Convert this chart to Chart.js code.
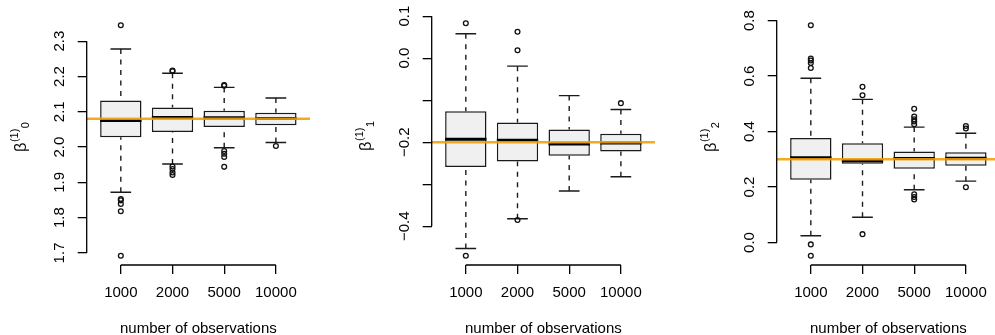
<!DOCTYPE html>
<html>
<head>
<meta charset="utf-8">
<script src="https://cdn.jsdelivr.net/npm/chart.js@4/dist/chart.umd.min.js"></script>
<style>
  html, body { margin: 0; padding: 0; background: #fff; overflow: hidden; }
  #wrap { position: relative; width: 995px; height: 335px; overflow: hidden; }
  .panel { position: absolute; top: 0; width: 345px; height: 335px; }
</style>
</head>
<body>
<div id="wrap">
  <div class="panel" style="left:0px"><canvas id="c0" width="345" height="335"></canvas></div>
  <div class="panel" style="left:345px"><canvas id="c1" width="345" height="335"></canvas></div>
  <div class="panel" style="left:690px"><canvas id="c2" width="345" height="335"></canvas></div>
</div>
<script>
'use strict';

// x categories
let nObs = ['1000', '2000', '5000', '10000'];

// each box: [lower whisker, q1, median, q3, upper whisker]
let b0Stats = [
  [1.872, 2.028, 2.075, 2.132, 2.278],
  [1.952, 2.043, 2.084, 2.112, 2.209],
  [1.998, 2.057, 2.083, 2.103, 2.169],
  [2.013, 2.062, 2.081, 2.097, 2.139]
];
let b0Out = [
  [2.345, 1.853, 1.849, 1.839, 1.818, 1.692],
  [2.217, 2.215, 1.945, 1.938, 1.928, 1.921],
  [2.176, 2.174, 1.989, 1.981, 1.972, 1.944],
  [2.003]
];
let b0True = 2.08;
let b0Ticks = [1.7, 1.8, 1.9, 2.0, 2.1, 2.2, 2.3];
let b0TickLabels = ['1.7', '1.8', '1.9', '2.0', '2.1', '2.2', '2.3'];

let b1Stats = [
  [-0.453, -0.259, -0.193, -0.126, 0.058],
  [-0.382, -0.246, -0.195, -0.153, -0.019],
  [-0.316, -0.232, -0.204, -0.170, -0.089],
  [-0.282, -0.222, -0.202, -0.180, -0.122]
];
let b1Out = [
  [0.083, -0.470],
  [0.063, 0.019, -0.385],
  [],
  [-0.107]
];
let b1True = -0.2;
let b1Ticks = [-0.4, -0.3, -0.2, -0.1, 0.0, 0.1];
let b1TickLabels = ['\u22120.4', '', '\u22120.2', '', '0.0', '0.1'];

let b2Stats = [
  [0.024, 0.226, 0.305, 0.377, 0.592],
  [0.091, 0.284, 0.295, 0.358, 0.516],
  [0.190, 0.266, 0.303, 0.328, 0.416],
  [0.221, 0.277, 0.304, 0.325, 0.394]
];
let b2Out = [
  [0.783, 0.663, 0.656, 0.647, 0.629, -0.007, -0.048],
  [0.561, 0.531, 0.030],
  [0.482, 0.454, 0.444, 0.436, 0.426, 0.174, 0.164, 0.155],
  [0.420, 0.411, 0.199]
];
let b2True = 0.3;
let b2Ticks = [0.0, 0.2, 0.4, 0.6, 0.8];
let b2TickLabels = ['0.0', '0.2', '0.4', '0.6', '0.8'];

const FONT = '"Liberation Sans", Arial, Helvetica, sans-serif';
Chart.defaults.font.family = FONT;
Chart.defaults.color = '#000';

function textWidth(txt, size) {
  let c = document.createElement('canvas').getContext('2d');
  c.font = size + 'px ' + FONT;
  return c.measureText(txt).width;
}

// axis line only from first to last tick, like R
const rAxes = {
  id: 'rAxes',
  afterDraw(chart) {
    let {ctx, scales: {x, y}} = chart;
    let xs = x.ticks.map(t => x.getPixelForValue(t.value));
    let ys = y.ticks.map(t => y.getPixelForValue(t.value));
    ctx.save();
    ctx.strokeStyle = '#000';
    ctx.lineWidth = 1.3;
    ctx.beginPath();
    ctx.moveTo(Math.min(...xs), x.top);
    ctx.lineTo(Math.max(...xs), x.top);
    ctx.moveTo(y.right, Math.min(...ys));
    ctx.lineTo(y.right, Math.max(...ys));
    ctx.stroke();
    ctx.restore();
  }
};

// y title: beta^(1)_k, rotated
const yTitle = {
  id: 'yTitle',
  afterDraw(chart, args, opts) {
    let {ctx, chartArea} = chart;
    ctx.save();
    ctx.fillStyle = '#000';
    ctx.translate(chartArea.left - 61, (chartArea.top + chartArea.bottom) / 2 - 3);
    ctx.rotate(-Math.PI / 2);
    ctx.textBaseline = 'alphabetic';
    let wB = textWidth('\u03b2', 16.5);
    let wS = textWidth('(1)', 11);
    let wI = textWidth(opts.sub, 11);
    let x = -(wB + wS + wI) / 2;
    ctx.font = '16.5px ' + FONT;
    ctx.fillText('\u03b2', x, 0);
    x += wB + 0.5;
    ctx.font = '11px ' + FONT;
    ctx.fillText('(1)', x, -7.5);
    x += wS + 0.5;
    ctx.fillText(opts.sub, x, 3);
    ctx.restore();
  }
};

function makePanel(id, stats, outl, truth, ticks, tickLabels, sub) {
  let n = stats.length;
  let xMin = 0.5 - 0.04 * n;
  let xMax = n + 0.5 + 0.04 * n;
  let all = [];
  stats.forEach((s, i) => { all.push(...s, ...outl[i]); });
  let lo = Math.min(...all), hi = Math.max(...all);
  let yMin = lo - 0.04 * (hi - lo);
  let yMax = hi + 0.04 * (hi - lo);

  let boxes = [], medians = [], whiskers = [], staples = [], points = [];
  stats.forEach((s, i) => {
    let c = i + 1;
    boxes.push({x: c, y: [s[1], s[3]]});
    medians.push({x: c - 0.4, y: s[2]}, {x: c + 0.4, y: s[2]}, {x: c, y: null});
    whiskers.push({x: c, y: s[4]}, {x: c, y: s[3]}, {x: c, y: null},
                  {x: c, y: s[0]}, {x: c, y: s[1]}, {x: c, y: null});
    staples.push({x: c - 0.2, y: s[4]}, {x: c + 0.2, y: s[4]}, {x: c, y: null},
                 {x: c - 0.2, y: s[0]}, {x: c + 0.2, y: s[0]}, {x: c, y: null});
    outl[i].forEach(v => points.push({x: c, y: v}));
  });

  let widest = Math.max(...tickLabels.map(t => textWidth(t, 15)));
  let yPad = 26.5 - 9 - widest / 2;

  let line = {type: 'line', pointRadius: 0, borderColor: '#1a1a1a', tension: 0, spanGaps: false};

  let ctx = document.getElementById(id).getContext('2d');
  return new Chart(ctx, { //eslint-disable-line
    type: 'bar',
    data: {
      datasets: [
        {
          data: boxes, order: 5,
          backgroundColor: '#f0f0f0', borderColor: '#1a1a1a', borderWidth: 1.5,
          borderSkipped: false, barPercentage: 0.8, categoryPercentage: 1.0
        },
        Object.assign({}, line, {data: medians, order: 4, borderWidth: 3, borderColor: '#000', borderCapStyle: 'butt'}),
        Object.assign({}, line, {data: whiskers, order: 3, borderWidth: 1.4, borderDash: [5, 5.5]}),
        Object.assign({}, line, {data: staples, order: 2, borderWidth: 1.4}),
        {
          type: 'scatter', data: points, order: 1,
          pointStyle: 'circle', pointRadius: 2.4, borderWidth: 1.3,
          borderColor: '#111', backgroundColor: 'rgba(0,0,0,0)'
        },
        {
          type: 'line', order: 0, pointRadius: 0,
          data: [{x: xMin, y: truth}, {x: xMax, y: truth}],
          borderColor: 'rgba(240,158,0,0.88)', borderWidth: 2.5
        }
      ]
    },
    options: {
      responsive: false,
      animation: false,
      events: [],
      layout: {padding: {top: 14, right: 35, bottom: 0, left: 0}},
      plugins: {
        legend: {display: false},
        tooltip: {enabled: false},
        yTitle: {sub: sub}
      },
      scales: {
        x: {
          type: 'linear', min: xMin, max: xMax, offset: false,
          afterBuildTicks: axis => { axis.ticks = nObs.map((_, i) => ({value: i + 1})); },
          afterFit: axis => { axis.height = 70; },
          grid: {display: true, offset: false, drawOnChartArea: false, drawTicks: true,
                 tickLength: 9, color: '#000', lineWidth: 1.3},
          border: {display: false},
          ticks: {
            autoSkip: false, maxRotation: 0, minRotation: 0, padding: 9.5,
            font: {size: 15, lineHeight: 1.2}, color: '#000',
            callback: (v, i) => nObs[i]
          },
          title: {display: true, text: 'number of observations',
                  font: {size: 15, lineHeight: 0.83}, padding: {top: 0, bottom: 0}, color: '#000'}
        },
        y: {
          type: 'linear', min: yMin, max: yMax,
          afterBuildTicks: axis => { axis.ticks = ticks.map(v => ({value: v})); },
          afterFit: axis => { axis.width = 86.7; },
          grid: {display: true, drawOnChartArea: false, drawTicks: true,
                 tickLength: 9, color: '#000', lineWidth: 1.3},
          border: {display: false},
          ticks: {
            autoSkip: false, minRotation: 90, maxRotation: 90, crossAlign: 'center',
            padding: yPad, font: {size: 15, lineHeight: 1.2}, color: '#000',
            callback: (v, i) => tickLabels[i]
          }
        }
      }
    },
    plugins: [rAxes, yTitle]
  });
}

makePanel('c0', b0Stats, b0Out, b0True, b0Ticks, b0TickLabels, '0');
makePanel('c1', b1Stats, b1Out, b1True, b1Ticks, b1TickLabels, '1');
makePanel('c2', b2Stats, b2Out, b2True, b2Ticks, b2TickLabels, '2');
</script>
</body>
</html>
